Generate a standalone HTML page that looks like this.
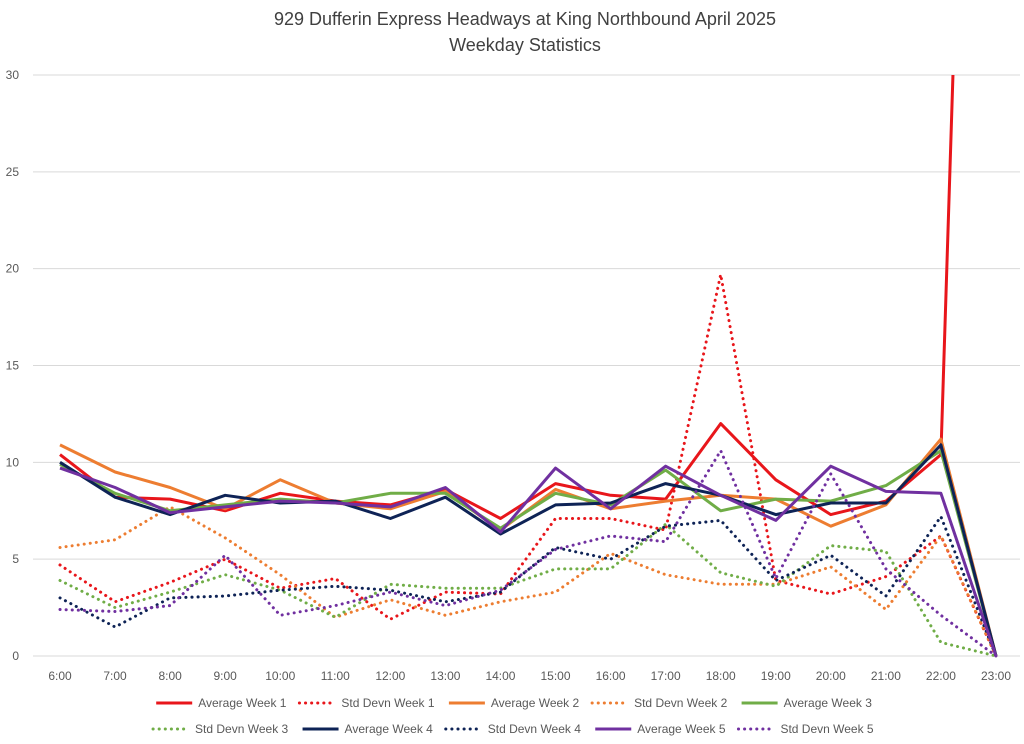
<!DOCTYPE html>
<html><head><meta charset="utf-8">
<style>
body{margin:0;background:#fff;width:1024px;height:744px;overflow:hidden;font-family:"Liberation Sans",sans-serif;}
svg{display:block}
</style></head>
<body>
<svg id="chart" width="1024" height="744">
<text x="525" y="25" text-anchor="middle" font-size="18" fill="#404040">929 Dufferin Express Headways at King Northbound April 2025</text>
<text x="525" y="51" text-anchor="middle" font-size="18" fill="#404040">Weekday Statistics</text>
<g id="grid"></g><g id="xlabels"></g><g id="ylabels"></g>
<defs><clipPath id="clip"><rect x="0" y="75" width="1024" height="600"/></clipPath></defs>
<g id="series" clip-path="url(#clip)"></g>
<g id="legend"></g>
</svg>
<script>
const categories=["6:00","7:00","8:00","9:00","10:00","11:00","12:00","13:00","14:00","15:00","16:00","17:00","18:00","19:00","20:00","21:00","22:00","23:00"];
const yTicks=[0,5,10,15,20,25,30];
const seriesNames=["Average Week 1","Std Devn Week 1","Average Week 2","Std Devn Week 2","Average Week 3","Std Devn Week 3","Average Week 4","Std Devn Week 4","Average Week 5","Std Devn Week 5"];
const avgW1=[10.4,8.2,8.1,7.5,8.4,8.0,7.8,8.6,7.1,8.9,8.3,8.1,12.0,9.1,7.3,8.0,10.4,100];
const stdW1=[4.7,2.8,3.8,5.0,3.5,4.0,1.9,3.3,3.2,7.1,7.1,6.5,19.7,3.9,3.2,4.1,6.2,0];
const avgW2=[10.9,9.5,8.7,7.6,9.1,7.9,7.6,8.5,6.5,8.6,7.6,8.0,8.3,8.1,6.7,7.8,11.2,0];
const stdW2=[5.6,6.0,7.7,6.1,4.2,2.0,2.9,2.1,2.8,3.3,5.3,4.2,3.7,3.7,4.6,2.4,6.2,0];
const avgW3=[9.9,8.4,7.5,7.8,8.1,7.9,8.4,8.4,6.6,8.4,7.8,9.6,7.5,8.1,8.0,8.8,10.6,0];
const stdW3=[3.9,2.5,3.3,4.2,3.4,2.0,3.7,3.5,3.5,4.5,4.5,6.8,4.3,3.6,5.7,5.4,0.7,0];
const avgW4=[10.0,8.2,7.3,8.3,7.9,8.0,7.1,8.2,6.3,7.8,7.9,8.9,8.3,7.3,7.9,7.9,10.9,0];
const stdW4=[3.0,1.5,3.0,3.1,3.4,3.6,3.4,2.8,3.3,5.6,5.0,6.7,7.0,3.9,5.2,3.1,7.2,0];
const avgW5=[9.7,8.7,7.4,7.7,8.0,7.9,7.7,8.7,6.4,9.7,7.6,9.8,8.3,7.0,9.8,8.5,8.4,0];
const stdW5=[2.4,2.3,2.6,5.2,2.1,2.6,3.3,2.6,3.4,5.5,6.2,5.9,10.6,4.0,9.4,4.5,2.1,0];
const allSeries=[avgW1,stdW1,avgW2,stdW2,avgW3,stdW3,avgW4,stdW4,avgW5,stdW5];
const colors=["#e8161b","#e8161b","#ed7d31","#ed7d31","#70ad47","#70ad47","#0e2356","#0e2356","#7030a0","#7030a0"];
const NS="http://www.w3.org/2000/svg";
const x0=60,x1=996,y0=656,y1=75,yMax=30;
const xs=i=>x0+(x1-x0)*i/(categories.length-1);
const ys=v=>y0-(y0-y1)*v/yMax;
function mk(tag,attrs,parent){const e=document.createElementNS(NS,tag);for(const k in attrs)e.setAttribute(k,attrs[k]);parent.appendChild(e);return e;}
const grid=document.getElementById('grid'),yl=document.getElementById('ylabels'),xl=document.getElementById('xlabels');
yTicks.forEach(t=>{
  const l=mk('line',{x1:33,x2:1020,y1:ys(t),y2:ys(t),stroke:'#d9d9d9','stroke-width':1},grid);
  
  
  const tx=mk('text',{x:19,y:ys(t)+4,'text-anchor':'end','font-size':12,fill:'#595959'},yl);
  tx.textContent=t;
  
  
});
categories.forEach((c,i)=>{
  const tx=mk('text',{x:xs(i),y:680,'text-anchor':'middle','font-size':12,fill:'#595959'},xl);
  tx.textContent=c;
  
  
});
const sg=document.getElementById('series');
allSeries.forEach((d,s)=>{
  const pts=d.map((v,i)=>xs(i).toFixed(1)+','+ys(v).toFixed(1)).join(' ');
  const dotted=s%2===1;
  const p=mk('polyline',{points:pts,fill:'none',stroke:colors[s],'stroke-width':3,'stroke-linejoin':'round','stroke-linecap':dotted?'round':'butt'},sg);
  if(dotted)p.setAttribute('stroke-dasharray','0.1 6');
  
  
});
const lg=document.getElementById('legend');
const rows=[[0,1,2,3,4],[5,6,7,8,9]];
const rowY=[707,733];
rows.forEach((r,ri)=>{
  const widths=r.map(s=>40+6+seriesNames[s].length*6.3);
  const gap=9;
  const total=widths.reduce((a,b)=>a+b,0)+gap*(r.length-1);
  let x=(1024-total)/2+4;
  r.forEach((s,k)=>{
    const g=mk('g',{},lg);
    
    
    const ln=mk('line',{x1:x,x2:x+36,y1:rowY[ri]-4,y2:rowY[ri]-4,stroke:colors[s],'stroke-width':3,'stroke-linecap':s%2?'round':'butt'},g);
    if(s%2)ln.setAttribute('stroke-dasharray','0.1 6');
    const t=mk('text',{x:x+42,y:rowY[ri],'font-size':12,fill:'#595959'},g);
    t.textContent=seriesNames[s];
    x+=widths[k]+gap;
  });
});
</script>
</body></html>
